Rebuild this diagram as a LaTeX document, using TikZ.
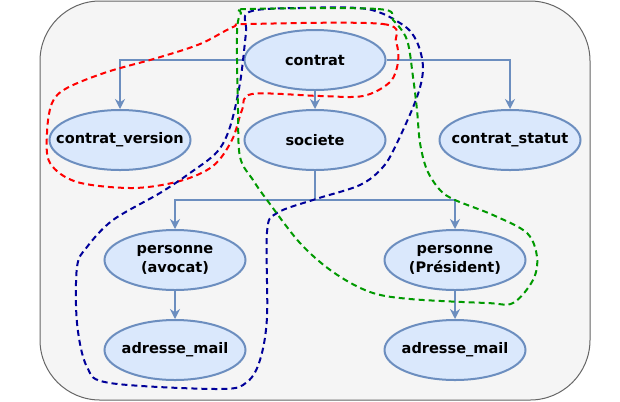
\documentclass[tikz,border=0pt]{standalone}
\usepackage{fontspec}
\setmainfont{DejaVu Sans}
\usetikzlibrary{shapes.geometric,arrows.meta}
\definecolor{entfill}{HTML}{DAE8FC}
\definecolor{entline}{HTML}{6C8EBF}
\definecolor{bgfill}{HTML}{F5F5F5}
\definecolor{bgline}{HTML}{666666}
\definecolor{grpred}{HTML}{FF0000}
\definecolor{grpblue}{HTML}{000099}
\definecolor{grpgreen}{HTML}{009900}

\begin{document}
\begin{tikzpicture}[x=0.75pt,y=-0.75pt]
\tikzstyle{every label}=[font=\bfseries\fontsize{10.9}{14.5}\selectfont, align=center, inner sep=0pt]
\tikzstyle{ent}=[ellipse, draw=entline, fill=entfill, line width=1.5pt, minimum width=105.75pt, minimum height=45pt, inner sep=0pt]
\tikzstyle{link}=[draw=entline, line width=1.5pt, -{Stealth[length=7.5pt,width=7.5pt,inset=2.5pt]}]
\tikzstyle{grp}=[line width=1.5pt, dash pattern=on 4.5pt off 3pt]
\useasboundingbox (0,0) rectangle (620,401);
\draw [bgline, fill=bgfill, line width=0.75pt, rounded corners=45pt] (40,1) rectangle (590,400);
\node [ent, label={center:contrat}] (contrat) at (315,60) {};
\node [ent, label={center:contrat\_version}] (cversion) at (120,140) {};
\node [ent, label={center:societe}] (societe) at (315,140) {};
\node [ent, label={center:contrat\_statut}] (cstatut) at (510,140) {};
\node [ent, label={center:{personne\\(avocat)}}] (pavocat) at (175,260) {};
\node [ent, label={center:{personne\\(Président)}}] (ppres) at (455,260) {};
\node [ent, label={center:adresse\_mail}] (mavocat) at (175,350) {};
\node [ent, label={center:adresse\_mail}] (mpres) at (455,350) {};
\coordinate (fork) at (315,200);
\draw [link] (contrat.west) -| (cversion.north);
\draw [link] (contrat.east) -| (cstatut.north);
\draw [link] (contrat) -- (societe);
\draw [link] (societe.south) -- (fork) -| (pavocat.north);
\draw [link] (fork) -| (ppres.north);
\draw [link] (pavocat) -- (mavocat);
\draw [link] (ppres) -- (mpres);
\draw [grp, grpred] plot [smooth cycle, tension=0.55] coordinates {(250,24) (383,24) (396,42) (398,62) (390,82) (363,96) (320,96) (252,94) (242,110) (232,140) (213,166) (180,181) (133,188) (77,182) (50,163) (47,133) (52,103) (67,88) (107,72) (157,58) (200,44) (233,27)};
\draw [grp, grpblue] plot [smooth cycle, tension=0.55] coordinates {(249,12) (300,8) (367,9) (403,25) (417,42) (423,68) (417,97) (397,143) (383,167) (360,185) (316,199) (277,213) (267,232) (267,317) (260,360) (247,382) (220,389) (110,383) (87,367) (77,323) (77,267) (87,247) (113,220) (160,193) (190,173) (217,152) (230,127) (240,83) (246,33)};
\draw [grp, grpgreen] plot [smooth cycle, tension=0.55] coordinates {(248,9) (378,9) (393,20) (407,40) (413,77) (417,110) (420,143) (427,170) (440,190) (455,200) (493,215) (527,233) (537,257) (533,280) (513,303) (487,303) (410,299) (370,292) (333,272) (300,243) (267,200) (253,180) (240,157) (238,110) (237,33) (241,13)};
\end{tikzpicture}
\end{document}
